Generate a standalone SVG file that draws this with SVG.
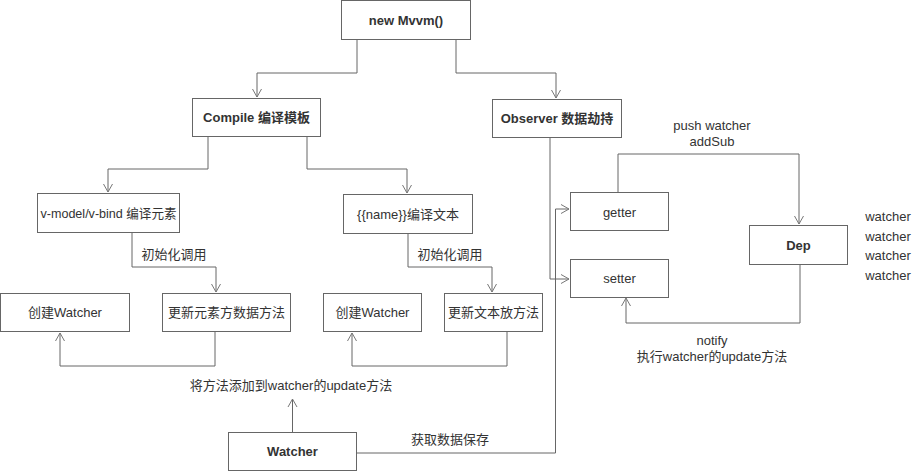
<svg xmlns="http://www.w3.org/2000/svg" width="914" height="471" viewBox="0 0 914 471">
<defs>
<style>
.box{fill:#fff;stroke:#666;stroke-width:1}
.t{font-family:"Liberation Sans","Noto Sans CJK SC",sans-serif;font-size:13px;fill:#333;text-anchor:middle;dominant-baseline:central}
.b{font-weight:bold}
.c{fill:none;stroke:#666;stroke-width:1}
</style>
<marker id="ah" markerUnits="userSpaceOnUse" markerWidth="12" markerHeight="12" viewBox="-10 -6 12 12" refX="0" refY="0" orient="auto">
<path d="M-8,-4.5 L0,0 L-8,4.5" fill="none" stroke="#777" stroke-width="1"/>
</marker>
</defs>
<rect width="914" height="471" fill="#fff"/>
<g id="connectors">
<path class="c" d="M357,39 V73 H257 V97" marker-end="url(#ah)"/>
<path class="c" d="M456,39 V73 H556 V98" marker-end="url(#ah)"/>
<path class="c" d="M208,136 V169 H108 V192" marker-end="url(#ah)"/>
<path class="c" d="M307,136 V169 H407 V193" marker-end="url(#ah)"/>
<path class="c" d="M132,232 V267 H216 V292" marker-end="url(#ah)"/>
<path class="c" d="M408,233 V267 H492 V292" marker-end="url(#ah)"/>
<path class="c" d="M215,332 V366 H60 V333" marker-end="url(#ah)"/>
<path class="c" d="M507,332 V366 H352 V333" marker-end="url(#ah)"/>
<path class="c" d="M292.5,432 V399" marker-end="url(#ah)"/>
<path class="c" d="M357,453 H555.5 V209 H569" marker-end="url(#ah)"/>
<path class="c" d="M550,137 V279 H569" marker-end="url(#ah)"/>
<path class="c" d="M618,192 V154 H799 V224" marker-end="url(#ah)"/>
<path class="c" d="M800,264 V323 H626 V298" marker-end="url(#ah)"/>
</g>
<g id="labels">
<text class="t" x="174" y="254">初始化调用</text>
<text class="t" x="450" y="254">初始化调用</text>
<text class="t" x="291" y="385">将方法添加到watcher的update方法</text>
<text class="t" x="450" y="439">获取数据保存</text>
<text class="t" x="712" y="125">push watcher</text>
<text class="t" x="712" y="141">addSub</text>
<text class="t" x="712" y="340">notify</text>
<text class="t" x="712" y="356">执行watcher的update方法</text>
<text class="t" x="888" y="216.5">watcher</text>
<text class="t" x="888" y="236">watcher</text>
<text class="t" x="888" y="255.5">watcher</text>
<text class="t" x="888" y="275">watcher</text>
</g>
<g id="mvvm"><rect class="box" x="341.5" y="0.5" width="129" height="39"/><text class="t b" x="406" y="20">new Mvvm()</text></g>
<g id="compile"><rect class="box" x="192.5" y="98.5" width="128" height="38"/><text class="t b" x="256.5" y="117.5">Compile 编译模板</text></g>
<g id="observer"><rect class="box" x="492.5" y="99.5" width="129" height="38"/><text class="t b" x="557" y="118.5">Observer 数据劫持</text></g>
<g id="vmodel"><rect class="box" x="37.5" y="193.5" width="142" height="39"/><text class="t" x="108.5" y="213" textLength="136" lengthAdjust="spacingAndGlyphs">v-model/v-bind 编译元素</text></g>
<g id="name"><rect class="box" x="343.5" y="194.5" width="129" height="39"/><text class="t" x="408" y="214">{{name}}编译文本</text></g>
<g id="cw1"><rect class="box" x="0.5" y="293.5" width="129" height="38"/><text class="t" x="65" y="312.5">创建Watcher</text></g>
<g id="upd1"><rect class="box" x="162.5" y="293.5" width="128" height="38"/><text class="t" x="226.5" y="312.5">更新元素方数据方法</text></g>
<g id="cw2"><rect class="box" x="323.5" y="293.5" width="98" height="38"/><text class="t" x="372.5" y="312.5">创建Watcher</text></g>
<g id="upd2"><rect class="box" x="444.5" y="293.5" width="98" height="38"/><text class="t" x="493.5" y="312.5">更新文本放方法</text></g>
<g id="getter"><rect class="box" x="570.5" y="192.5" width="98" height="38"/><text class="t" x="619.5" y="212">getter</text></g>
<g id="setter"><rect class="box" x="570.5" y="259.5" width="98" height="38"/><text class="t" x="619.5" y="278.5">setter</text></g>
<g id="dep"><rect class="box" x="749.5" y="225.5" width="98" height="39"/><text class="t b" x="798.5" y="245">Dep</text></g>
<g id="watcher"><rect class="box" x="228.5" y="432.5" width="128" height="38"/><text class="t b" x="292.5" y="451.5">Watcher</text></g>
</svg>
